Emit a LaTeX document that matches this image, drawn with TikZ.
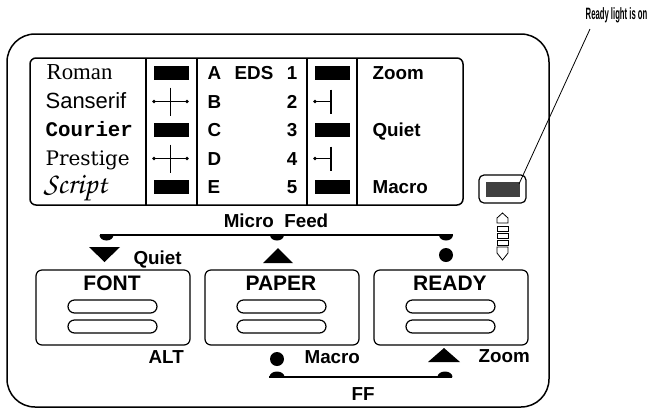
\documentclass[tikz,border=0pt]{standalone}
\usepackage[T1]{fontenc}
\usepackage{fontspec}
\newfontfamily\panelsans{Liberation Sans}
\newfontfamily\romanface{Liberation Serif}
\newfontfamily\courierface{Liberation Mono}
\newfontfamily\prestigeface{DejaVu Serif}
\newfontfamily\calloutface[FakeStretch=0.47]{Liberation Sans}
\newcommand\chancery{\usefont{T1}{pzc}{m}{it}}

\begin{document}
\begin{tikzpicture}[x=0.5pt, y=-0.5pt, line width=0.6pt,
  lbl/.style={font=\panelsans\bfseries\fontsize{9.4}{9.4}\selectfont, inner sep=0pt},
  kname/.style={font=\panelsans\bfseries\fontsize{10.5}{10.5}\selectfont, inner sep=0pt, anchor=base},
  keybox/.style={draw, rounded corners=3pt, minimum width=77pt, minimum height=37.5pt, inner sep=0pt},
  pill/.style={draw, rounded corners=3.25pt, minimum width=44.5pt, minimum height=6.5pt, inner sep=0pt},
  bar/.style={fill=black, minimum width=17.5pt, minimum height=7pt, inner sep=0pt}]
  \useasboundingbox (0,0) rectangle (649,409);
  % Outer panel and the display window with its four dividers
  \draw[line width=0.75pt, rounded corners=14pt] (7,34) rectangle (549,407);
  \draw[line width=0.75pt, rounded corners=3pt] (30,58) rectangle (463,205);
  \foreach \x in {146,197,307,357} {
    \draw (\x,58) -- (\x,205);
  }
  % Font names, each in its own face
  \node[anchor=base west, inner sep=0pt, font=\romanface\fontsize{11.4}{12}\selectfont] (roman) at (46,79.5) {Roman};
  \node[anchor=base west, inner sep=0pt, font=\panelsans\fontsize{11}{12}\selectfont] (sans) at (45,108) {Sanserif};
  \node[anchor=base west, inner sep=0pt, font=\courierface\bfseries\fontsize{10.4}{12}\selectfont] (courier) at (45,136.5) {Courier};
  \node[anchor=base west, inner sep=0pt, font=\prestigeface\fontsize{10}{12}\selectfont] (prestige) at (45,165) {Prestige};
  \node[anchor=base west, inner sep=0pt, font=\fontsize{15}{16}\chancery] (script) at (43,193.5) {Script};
  % Indicator marks: solid bars and (half) crosses
  \foreach \r in {73,130,187} {
    \node[bar] (lbar\r) at (171.5,\r) {};
    \node[bar] (rbar\r) at (332,\r) {};
  }
  \foreach \r in {101.5,158.5} {
    \draw (154,\r) -- (187,\r);
    \fill (154,\r) circle[radius=1.8];
    \fill (187,\r) circle[radius=1.8];
    \draw (170.5,\r-14) -- (170.5,\r+14);
    \draw (315,\r) -- (331,\r);
    \fill (315,\r) circle[radius=1.8];
    \draw (331,\r-12) -- (331,\r+12);
  }
  % Letter and number columns
  \foreach \l/\n/\r in {A/1/73, B/2/101.5, C/3/130, D/4/158.5, E/5/187} {
    \node[lbl, anchor=base west] (let\l) at (207,\r+6.5) {\l};
    \node[lbl, anchor=base east] (num\n) at (298,\r+6.5) {\n};
  }
  \node[lbl, anchor=base] (eds) at (254,79.5) {EDS};
  \node[lbl, anchor=base west] (zoomtop) at (372,79.5) {Zoom};
  \node[lbl, anchor=base west] (quiettop) at (372,136.5) {Quiet};
  \node[lbl, anchor=base west] (macrotop) at (372,193.5) {Macro};
  % Ready light, its callout and the scroll mark below it
  \node[draw, rounded corners=2.5pt, minimum width=23.5pt, minimum height=14pt, inner sep=0pt] (light) at (502.5,189) {};
  \fill[black!75] (486,182) rectangle (520,197);
  \node[anchor=base east, inner sep=0pt, font=\calloutface\bfseries\fontsize{8.2}{9}\selectfont] (note) at (648,19.5) {Ready light is on};
  \coordinate (notefoot) at (590,29);
  \coordinate (lit) at (519,184);
  \draw[line width=0.4pt] (notefoot) -- (lit);
  \draw[line width=0.4pt] (497,223) -- (497,218) -- (502.5,213) -- (508,218) -- (508,223) -- cycle;
  \foreach \t in {226,233,240} {
    \draw[line width=0.4pt] (497,\t) rectangle (508,\t+5);
  }
  \draw[line width=0.4pt] (497,247) -- (508,247) -- (508,253) -- (502.5,260) -- (497,253) -- cycle;
  % Micro Feed bracket over the keys
  \node[lbl, anchor=base] (micro) at (276,227) {Micro~~Feed};
  \draw (100,235) -- (453,235);
  \foreach \c in {106.5,277,446} {
    \fill (\c-7,235) arc[start angle=180, end angle=0, x radius=7, y radius=5.5];
  }
  \fill (89,247) -- (120,247) -- (104.5,262) -- cycle;
  \node[lbl, anchor=base west] (quiet) at (133,264) {Quiet};
  \fill (263,263) -- (293,263) -- (278,248) -- cycle;
  \fill (446,255) circle[radius=7];
  % The three keys
  \foreach \k/\c in {FONT/113, PAPER/282, READY/451} {
    \node[keybox] (key\k) at (\c,307.5) {};
    \node[kname] (name\k) at (\c-1,290) {\k};
    \node[pill] (pilla\k) at (\c-0.5,306.5) {};
    \node[pill] (pillb\k) at (\c-0.5,326.5) {};
  }
  % Labels under the keys and the FF bracket
  \node[lbl, anchor=base west] (alt) at (148,363) {ALT};
  \fill (277,359) circle[radius=7];
  \node[lbl, anchor=base west] (macro) at (304,363) {Macro};
  \fill (428,362) -- (460,362) -- (444,348) -- cycle;
  \node[lbl, anchor=base west] (zoom) at (478,362) {Zoom};
  \draw (269,377) -- (452,377);
  \foreach \c in {277,445} {
    \fill (\c-7.5,377) arc[start angle=180, end angle=360, x radius=7.5, y radius=5.5];
  }
  \node[lbl, anchor=base] (ff) at (363,400) {FF};
\end{tikzpicture}
\end{document}
